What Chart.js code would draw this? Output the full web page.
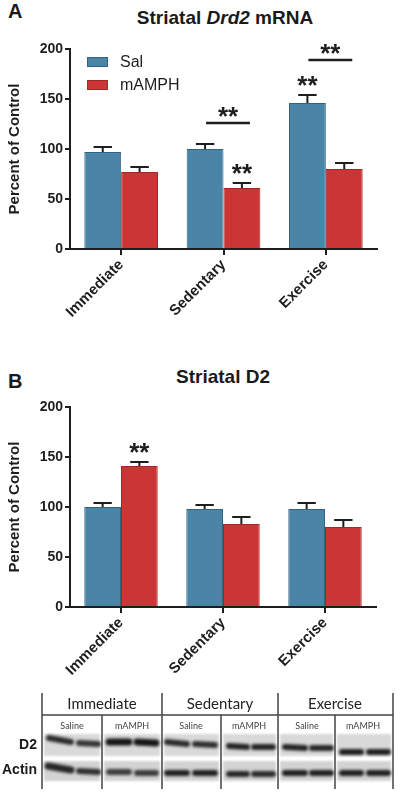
<!DOCTYPE html>
<html>
<head>
<meta charset="utf-8">
<script src="https://cdn.jsdelivr.net/npm/chart.js@4.4.1/dist/chart.umd.min.js"></script>
<style>
  html, body { margin: 0; padding: 0; background: #fff; }
  body { width: 400px; height: 795px; position: relative; overflow: hidden; font-family: "Liberation Sans", Arial, sans-serif; color: #1a1a1a; }
  canvas { position: absolute; left: 0; }
  .lbl { position: absolute; white-space: nowrap; line-height: 1; }
  .panel { font-weight: bold; font-size: 20px; }
  .title { font-weight: bold; font-size: 19px; text-align: center; width: 260px; }
  .blothead { font-family: Lato, "Open Sans", sans-serif; font-size: 15px; color: #222; text-align: center; width: 110px; transform: translateY(-50%); }
  .lane { font-family: Lato, "Open Sans", sans-serif; font-size: 9px; color: #444; text-align: center; width: 56px; transform: translateY(-50%); }
  .rowlbl { font-weight: bold; font-size: 14px; text-align: right; width: 40px; transform: translateY(-50%); }
</style>
</head>
<body>
<div class="lbl panel" style="left:8px; top:1px;">A</div>
<div class="lbl title" style="left:95px; top:8px;">Striatal <i>Drd2</i> mRNA</div>
<canvas id="chartA" width="400" height="330" style="top:0px;"></canvas>

<div class="lbl panel" style="left:8px; top:371px;">B</div>
<div class="lbl title" style="left:93px; top:367px;">Striatal D2</div>
<canvas id="chartB" width="400" height="360" style="top:330px;"></canvas>

<canvas id="blot" width="400" height="105" style="top:690px;"></canvas>
<div class="lbl blothead" style="left:47px; top:703px;">Immediate</div>
<div class="lbl blothead" style="left:165px; top:703px;">Sedentary</div>
<div class="lbl blothead" style="left:280px; top:703px;">Exercise</div>
<div class="lbl lane" style="left:44px; top:725px;">Saline</div>
<div class="lbl lane" style="left:104px; top:725px;">mAMPH</div>
<div class="lbl lane" style="left:163px; top:725px;">Saline</div>
<div class="lbl lane" style="left:221px; top:725px;">mAMPH</div>
<div class="lbl lane" style="left:279px; top:725px;">Saline</div>
<div class="lbl lane" style="left:335px; top:725px;">mAMPH</div>
<div class="lbl rowlbl" style="left:-3px; top:744px;">D2</div>
<div class="lbl rowlbl" style="left:-3px; top:769px;">Actin</div>

<script>
// ---------------- data ----------------
const categories = ['Immediate', 'Sedentary', 'Exercise'];
const seriesLabels = ['Sal', 'mAMPH'];
const yTickValues = [0, 50, 100, 150, 200];

// Panel A: Striatal Drd2 mRNA (percent of control, mean and SEM)
const mrnaSal = [97, 100, 146];
const mrnaSalSem = [5, 5, 8];
const mrnaAmph = [77, 61, 80];
const mrnaAmphSem = [5, 5, 6];
const mrnaStarBars = [[1, 1], [2, 0]];          // [category, series] with "**"
const mrnaBracketCats = [1, 2];                  // categories with Sal vs mAMPH bracket
const mrnaBracketLevels = [126, 189];            // bracket heights (percent)

// Panel B: Striatal D2 protein
const d2Sal = [100, 98, 98];
const d2SalSem = [4, 4, 6];
const d2Amph = [141, 83, 80];
const d2AmphSem = [4, 7, 7];
const d2StarBars = [[0, 1]];

const FILL = ['#4a84a6', '#cc3535'];
const EDGE = ['#2f6482', '#a02828'];
const INK = '#1e1e1e';

Chart.defaults.font.family = '"Liberation Sans", Arial, sans-serif';
Chart.defaults.color = INK;

const errorBarPlugin = {
  id: 'errorBars',
  afterDatasetsDraw(chart) {
    const ctx = chart.ctx, y = chart.scales.y;
    ctx.save();
    ctx.strokeStyle = INK; ctx.lineWidth = 2;
    chart.data.datasets.forEach((ds, i) => {
      chart.getDatasetMeta(i).data.forEach((bar, j) => {
        const top = y.getPixelForValue(ds.data[j] + ds.sem[j]);
        const half = bar.width * 0.25;
        ctx.beginPath();
        ctx.moveTo(bar.x, bar.y); ctx.lineTo(bar.x, top);
        ctx.moveTo(bar.x - half, top); ctx.lineTo(bar.x + half, top);
        ctx.stroke();
      });
    });
    ctx.restore();
  }
};

function drawStars(ctx, x, cy) {
  ctx.save();
  ctx.font = 'bold 26px "Liberation Sans", Arial, sans-serif';
  ctx.fillStyle = INK; ctx.textAlign = 'center'; ctx.textBaseline = 'alphabetic';
  ctx.fillText('**', x, cy + 15);
  ctx.restore();
}

const significancePlugin = {
  id: 'significance',
  afterDatasetsDraw(chart, args, opts) {
    const ctx = chart.ctx, y = chart.scales.y;
    const ds = chart.data.datasets;
    (opts.stars || []).forEach(([c, s]) => {
      const bar = chart.getDatasetMeta(s).data[c];
      const top = y.getPixelForValue(ds[s].data[c] + ds[s].sem[c]);
      drawStars(ctx, bar.x, top - 16);
    });
    (opts.bracketCats || []).forEach((c, k) => {
      const b0 = chart.getDatasetMeta(0).data[c];
      const b1 = chart.getDatasetMeta(1).data[c];
      const ly = y.getPixelForValue(opts.bracketLevels[k]);
      const x0 = b0.x + 1, x1 = b1.x + 8;
      ctx.save();
      ctx.strokeStyle = INK; ctx.lineWidth = 2.5;
      ctx.beginPath(); ctx.moveTo(x0, ly); ctx.lineTo(x1, ly); ctx.stroke();
      ctx.restore();
      drawStars(ctx, (x0 + x1) / 2, ly - 13);
    });
  }
};

const insideLegendPlugin = {
  id: 'insideLegend',
  afterDraw(chart, args, opts) {
    if (!opts.show) return;
    const ctx = chart.ctx, a = chart.chartArea;
    ctx.save();
    chart.data.datasets.forEach((ds, i) => {
      const bx = a.left + 17, by = a.top + 8 + i * 23;
      ctx.fillStyle = ds.backgroundColor; ctx.strokeStyle = ds.borderColor; ctx.lineWidth = 1;
      ctx.fillRect(bx, by, 21, 10); ctx.strokeRect(bx + 0.5, by + 0.5, 20, 9);
      ctx.fillStyle = INK; ctx.font = '16px "Liberation Sans", Arial, sans-serif';
      ctx.textBaseline = 'middle'; ctx.textAlign = 'left';
      ctx.fillText(ds.label, bx + 33, by + 5.5);
    });
    ctx.restore();
  }
};

function makeChart(id, sal, salSem, amph, amphSem, cfg) {
  return new Chart(document.getElementById(id), {
    type: 'bar',
    data: {
      labels: categories,
      datasets: [
        { label: seriesLabels[0], data: sal, sem: salSem, backgroundColor: FILL[0], borderColor: EDGE[0], borderWidth: 1, categoryPercentage: 0.72, barPercentage: 1.0 },
        { label: seriesLabels[1], data: amph, sem: amphSem, backgroundColor: FILL[1], borderColor: EDGE[1], borderWidth: 1, categoryPercentage: 0.72, barPercentage: 1.0 }
      ]
    },
    options: {
      responsive: false, animation: false, devicePixelRatio: 1,
      layout: { padding: { top: cfg.top, right: cfg.right, left: 0, bottom: 0 } },
      plugins: {
        legend: { display: false }, tooltip: { enabled: false },
        significance: cfg.sig,
        insideLegend: { show: cfg.legend }
      },
      scales: {
        x: {
          offset: true,
          grid: { offset: false, drawOnChartArea: false, drawTicks: true, tickLength: 6, color: INK, lineWidth: 2 },
          border: { display: true, color: INK, width: 2 },
          ticks: { font: { size: 15, weight: 'bold' }, color: INK, minRotation: 45, maxRotation: 45, padding: 1, autoSkip: false },
          afterFit(scale) { scale.height = cfg.xHeight; }
        },
        y: {
          min: 0, max: 200,
          afterBuildTicks(scale) { scale.ticks = yTickValues.map(v => ({ value: v })); },
          grid: { drawOnChartArea: false, drawTicks: true, tickLength: 5, color: INK, lineWidth: 2 },
          border: { display: true, color: INK, width: 2 },
          ticks: { font: { size: 14, weight: 'bold' }, color: INK, padding: 2 },
          title: { display: true, text: 'Percent of Control', font: { size: 15, weight: 'bold' }, color: INK, padding: { top: 6, bottom: 0 } },
          afterFit(scale) { scale.width = 70; }
        }
      }
    },
    plugins: [errorBarPlugin, significancePlugin, insideLegendPlugin]
  });
}

makeChart('chartA', mrnaSal, mrnaSalSem, mrnaAmph, mrnaAmphSem, {
  top: 49, right: 23, xHeight: 81, legend: true,
  sig: { stars: mrnaStarBars, bracketCats: mrnaBracketCats, bracketLevels: mrnaBracketLevels }
});
makeChart('chartB', d2Sal, d2SalSem, d2Amph, d2AmphSem, {
  top: 77, right: 24, xHeight: 83, legend: false,
  sig: { stars: d2StarBars, bracketCats: [], bracketLevels: [] }
});

// ---------------- western blot picture ----------------
(function drawBlot() {
  const ctx = document.getElementById('blot').getContext('2d');
  const oy = 690;
  const Y = v => v - oy;
  const strips = [[44, 100], [104, 160], [164, 219], [223, 276], [280, 333], [337, 391]];
  ctx.save();
  ctx.filter = 'blur(1px)';
  strips.forEach(([x0, x1]) => {
    ctx.fillStyle = '#d9d9d9'; ctx.fillRect(x0, Y(734), x1 - x0, 22);
    ctx.fillStyle = '#d3d3d3'; ctx.fillRect(x0, Y(761), x1 - x0, 20);
  });
  ctx.restore();
  const bands = [
    [47, 73, 738, 742, 6, '#2a2a2a'], [77, 100, 743, 744, 6, '#333'],
    [107, 131, 742, 742, 7, '#151515'], [135, 158, 742, 743, 7, '#151515'],
    [165, 189, 742, 744, 6, '#2a2a2a'], [193, 217, 744, 745, 6, '#2e2e2e'],
    [227, 249, 746, 747, 6, '#222'], [252, 275, 747, 747, 6, '#222'],
    [283, 307, 747, 748, 6, '#222'], [310, 333, 748, 748, 6, '#262626'],
    [340, 363, 752, 752, 6, '#1e1e1e'], [367, 390, 752, 752, 6, '#1e1e1e'],
    [46, 73, 766, 770, 7, '#262626'], [77, 100, 771, 772, 6, '#2e2e2e'],
    [107, 131, 772, 772, 6, '#3a3a3a'], [135, 158, 773, 773, 6, '#3a3a3a'],
    [165, 189, 773, 773, 6, '#1e1e1e'], [193, 217, 773, 773, 6, '#1e1e1e'],
    [227, 249, 774, 774, 6, '#262626'], [252, 275, 774, 774, 6, '#2a2a2a'],
    [283, 307, 773, 773, 6, '#1e1e1e'], [310, 333, 773, 773, 6, '#1e1e1e'],
    [340, 363, 773, 773, 6, '#1e1e1e'], [367, 390, 773, 773, 6, '#1e1e1e']
  ];
  ctx.save();
  ctx.filter = 'blur(1.6px)';
  bands.forEach(([x0, x1, yl, yr, t, c]) => {
    ctx.strokeStyle = c; ctx.lineWidth = t; ctx.lineCap = 'round';
    ctx.beginPath(); ctx.moveTo(x0 + 2, Y(yl)); ctx.lineTo(x1 - 2, Y(yr)); ctx.stroke();
  });
  ctx.restore();
  ctx.strokeStyle = '#444'; ctx.lineWidth = 1.5;
  ctx.beginPath();
  [42, 162, 278, 393].forEach(x => { ctx.moveTo(x, Y(693)); ctx.lineTo(x, Y(789)); });
  ctx.moveTo(42, Y(715)); ctx.lineTo(393, Y(715));
  [102, 221, 335].forEach(x => { ctx.moveTo(x, Y(715)); ctx.lineTo(x, Y(789)); });
  ctx.stroke();
})();
</script>
</body>
</html>
